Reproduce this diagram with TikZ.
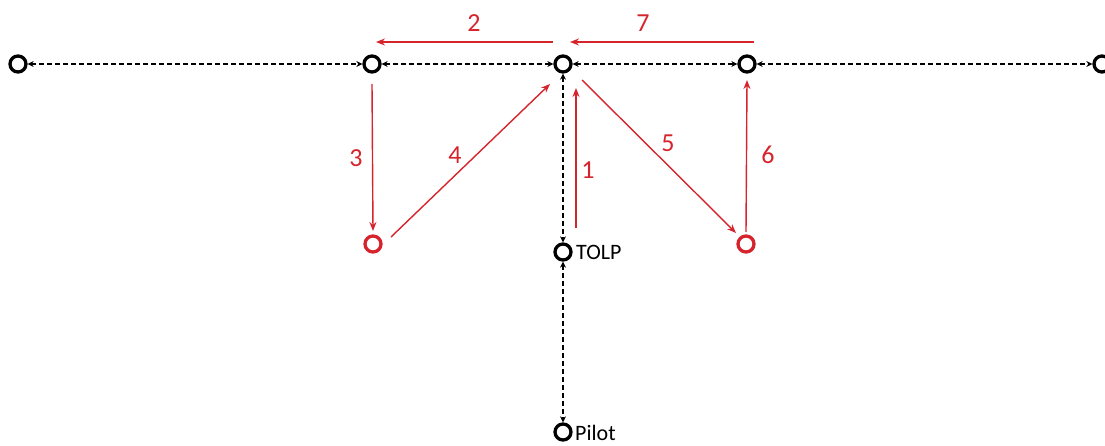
\documentclass[tikz,border=0pt]{standalone}
\usepackage{fontspec}
\setmainfont{Carlito}
\usetikzlibrary{arrows.meta,calc}
\definecolor{myred}{RGB}{214,36,44}
\tikzset{
  pt/.style={circle,draw=black,line width=3.3pt,minimum size=16pt,inner sep=0pt},
  rpt/.style={pt,draw=myred},
  dasharr/.style={dash pattern=on 5pt off 3pt,line width=1.2pt,{Stealth[length=6pt,width=6pt]}-{Stealth[length=6pt,width=6pt]}},
  rarr/.style={myred,line width=1.4pt,-{Stealth[length=9pt,width=7pt]}},
  num/.style={text=myred,font=\fontsize{26}{28}\selectfont,inner sep=0pt},
  lab/.style={font=\fontsize{22}{24}\selectfont,inner sep=0pt,anchor=west}
}
\begin{document}
\begin{tikzpicture}[x=1pt,y=-1pt]
\useasboundingbox (0,0) rectangle (1105,446);
\node[pt] (A) at (18,64) {};
\node[pt] (B) at (372,64) {};
\node[pt] (C) at (563,64) {};
\node[pt] (D) at (747,64) {};
\node[pt] (E) at (1102,64) {};
\node[rpt] (F) at (373,244) {};
\node[rpt] (G) at (746,244) {};
\node[pt] (T) at (563,252) {};
\node[pt] (P) at (563,432) {};
\node[lab] (Tl) at (576,252) {TOLP};
\node[lab] (Pl) at (575,433) {Pilot};
% black dashed
\draw[dasharr] (A) -- (B);
\draw[dasharr] (B) -- (C);
\draw[dasharr] (C) -- (D);
\draw[dasharr] (D) -- (E);
\draw[dasharr] (C) -- (T);
\draw[dasharr] (T) -- (P);
% red arrows
\draw[rarr] ($(C)+(-10,-22)$) -- ($(B)+(4,-22)$);
\draw[rarr] ($(D)+(7,-22)$) -- ($(C)+(7,-22)$);
\draw[rarr] ($(B)+(0,20)$) -- ($(F)+(0,-13)$);
\draw[rarr] ($(F)+(18,-7)$) -- ($(C)+(-13,20)$);
\draw[rarr] ($(T)+(13,-24)$) -- ($(C)+(13,24)$);
\draw[rarr] ($(C)+(19,16)$) -- ($(G)+(-10,-11)$);
\draw[rarr] ($(G)+(0,-12)$) -- ($(D)+(0,16)$);
% labels
\node[num] (n2) at (474,23) {2};
\node[num] (n7) at (643,23) {7};
\node[num] (n3) at (356,158) {3};
\node[num] (n4) at (455,155) {4};
\node[num] (n1) at (588,170) {1};
\node[num] (n5) at (668,143) {5};
\node[num] (n6) at (768,155) {6};
\end{tikzpicture}
\end{document}
